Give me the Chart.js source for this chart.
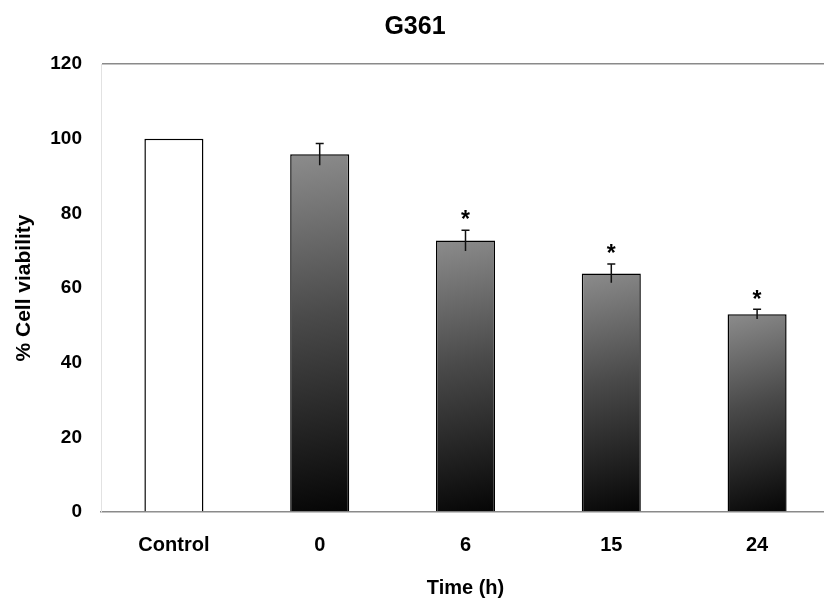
<!DOCTYPE html>
<html>
<head>
<meta charset="utf-8">
<script src="https://cdn.jsdelivr.net/npm/chart.js@4.4.0/dist/chart.umd.min.js"></script>
<style>
  html, body { margin: 0; padding: 0; background: #fff; overflow: hidden; }
  #wrap { width: 834px; height: 601px; }
</style>
</head>
<body>
<div id="wrap"><canvas id="g361"></canvas></div>
<script>
var categories = ['Control', '0', '6', '15', '24'];
var viability = [100, 95.8, 72.7, 63.9, 53.0];
var errors = [0, 2.9, 2.8, 2.5, 1.3];
var marked = [false, false, true, true, true];
var yTicks = [0, 20, 40, 60, 80, 100, 120];

var BAR_PCT = 0.405;
var FONT = '"Liberation Sans", Arial, sans-serif';

// diagonal grey -> black fill for the treated bars
function barFill(ctx) {
    var chart = ctx.chart;
    var i = ctx.dataIndex;
    if (i === 0) return '#ffffff';
    var xs = chart.scales.x, ys = chart.scales.y;
    if (!xs || !chart.chartArea) return '#444';
    var half = xs.width / categories.length * BAR_PCT / 2;
    var cx = xs.getPixelForValue(i);
    var g = chart.ctx.createLinearGradient(cx - half, ys.getPixelForValue(viability[i]), cx + half, ys.getPixelForValue(0));
    g.addColorStop(0, '#8c8c8c');
    g.addColorStop(0.45, '#4a4a4a');
    g.addColorStop(1, '#050505');
    return g;
}

var errorBars = {
    id: 'errorBars',
    afterDatasetsDraw: function (chart) {
        var c = chart.ctx, xs = chart.scales.x, ys = chart.scales.y;
        c.save();
        for (var i = 0; i < viability.length; i++) {
            var x = xs.getPixelForValue(i);
            if (errors[i] > 0) {
                var top = ys.getPixelForValue(viability[i] + errors[i]);
                var bot = ys.getPixelForValue(viability[i] - errors[i]);
                c.strokeStyle = '#111';
                c.lineWidth = 1.5;
                c.beginPath();
                c.moveTo(x, bot); c.lineTo(x, top);
                c.moveTo(x - 4, top); c.lineTo(x + 4, top);
                c.stroke();
            }
            if (marked[i]) {
                var yy = ys.getPixelForValue(viability[i] + errors[i]);
                c.fillStyle = '#000';
                c.font = 'bold 23px ' + FONT;
                c.textAlign = 'center';
                c.textBaseline = 'middle';
                c.fillText('*', x, yy - 9);
            }
        }
        c.restore();
    }
};

new Chart('g361', {
    type: 'bar',
    data: {
        labels: categories,
        datasets: [
            {
                data: viability,
                backgroundColor: barFill,
                borderColor: '#000',
                borderWidth: 1.5,
                barPercentage: BAR_PCT,
                categoryPercentage: 1
            }
        ]
    },
    options: {
        responsive: true,
        maintainAspectRatio: false,
        animation: false,
        layout: { padding: { left: 0, right: 4, top: 0, bottom: 0 } },
        scales: {
            x: {
                afterFit: function (scale) { scale.height = 89; },
                grid: { display: false, drawTicks: false },
                border: { display: true, color: '#8a8a8a', width: 1.5 },
                ticks: {
                    color: '#000',
                    padding: 21,
                    font: { family: FONT, size: 20, weight: 'bold' }
                },
                title: {
                    display: true,
                    text: 'Time (h)',
                    color: '#000',
                    padding: { top: 10, bottom: 1 },
                    font: { family: FONT, size: 20, weight: 'bold' }
                }
            },
            y: {
                min: 0,
                max: 120,
                afterFit: function (scale) { scale.width = 101; },
                afterBuildTicks: function (axis) {
                    axis.ticks = yTicks.map(function (v) { return { value: v }; });
                },
                grid: {
                    drawTicks: false,
                    lineWidth: 1.5,
                    color: function (ctx) { return ctx.tick && ctx.tick.value === 120 ? '#8a8a8a' : 'rgba(0,0,0,0)'; }
                },
                border: { display: true, color: '#e2e2e2', width: 1 },
                ticks: {
                    color: '#000',
                    padding: 19,
                    font: { family: FONT, size: 19, weight: 'bold' }
                },
                title: {
                    display: true,
                    text: '% Cell viability',
                    color: '#000',
                    padding: { top: 12, bottom: 10 },
                    font: { family: FONT, size: 21, weight: 'bold' }
                }
            }
        },
        plugins: {
            legend: { display: false },
            tooltip: { enabled: false },
            title: {
                display: true,
                text: 'G361',
                color: '#000',
                padding: { top: 12, bottom: 22 },
                font: { family: FONT, size: 25, weight: 'bold' }
            }
        }
    },
    plugins: [errorBars]
});
</script>
</body>
</html>
